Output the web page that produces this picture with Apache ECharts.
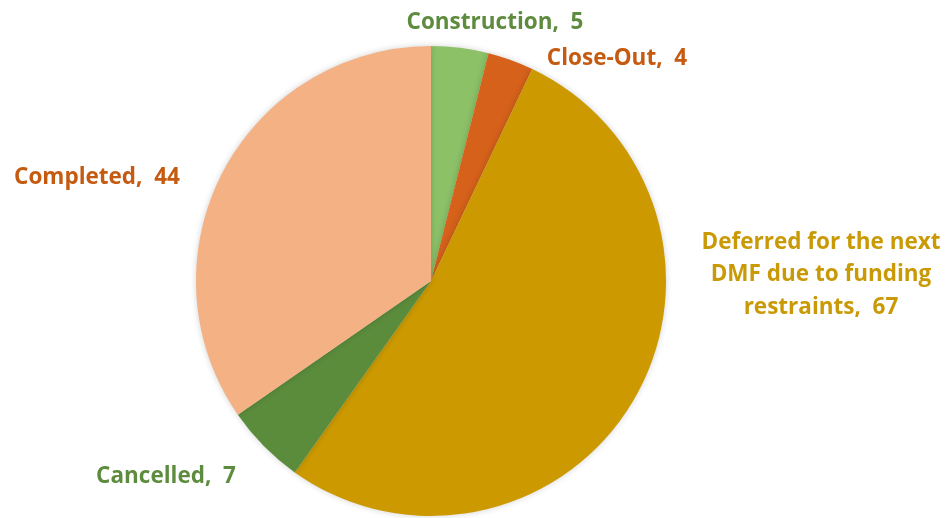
<!DOCTYPE html>
<html>
<head>
<meta charset="utf-8">
<script src="https://cdn.jsdelivr.net/npm/echarts@6/dist/echarts.min.js"></script>
<style>
  html, body { margin: 0; padding: 0; background: #fff; }
  #chart { width: 945px; height: 518px; }
</style>
</head>
<body>
<div id="chart"></div>
<script>
// data
const categories = ['Construction', 'Close-Out', 'Deferred for the next\nDMF due to funding\nrestraints', 'Cancelled', 'Completed'];
const values = [5, 4, 67, 7, 44];

const sliceColors = ['#8CC168', '#D5611A', '#CC9A00', '#5B8C3C', '#F4B183'];
const labelColors = ['#5E8C3E', '#C55A11', '#C99A06', '#5E8C3E', '#C55A11'];
// label anchor points (centre of text)
const labelPos = [
    { x: 495, y: 23 },
    { x: 617, y: 59 },
    { x: 821, y: 275 },
    { x: 166, y: 477 },
    { x: 97, y: 178 }
];

const chart = echarts.init(document.getElementById('chart'));

const option = {
    backgroundColor: '#fff',
    animation: false,
    series: [{
        type: 'pie',
        center: [431, 281],
        radius: 235,
        startAngle: 90,
        clockwise: true,
        data: categories.map((c, i) => ({
            name: c,
            value: values[i],
            itemStyle: { color: sliceColors[i] },
            label: { color: labelColors[i] }
        })),
        itemStyle: {
            borderWidth: 0,
            shadowBlur: 6,
            shadowColor: 'rgba(0,0,0,0.18)'
        },
        label: {
            show: true,
            position: 'outside',
            overflow: 'none',
            formatter: function (p) {
                return p.name + ',  ' + p.value;
            },
            fontFamily: 'Open Sans',
            fontWeight: 'bold',
            fontSize: 22.5,
            lineHeight: 32.5,
            align: 'center'
        },
        labelLine: { show: false },
        labelLayout: function (params) {
            const p = labelPos[params.dataIndex];
            return {
                x: p.x,
                y: p.y,
                align: 'center',
                verticalAlign: 'middle'
            };
        }
    }]
};

chart.setOption(option);
</script>
</body>
</html>
